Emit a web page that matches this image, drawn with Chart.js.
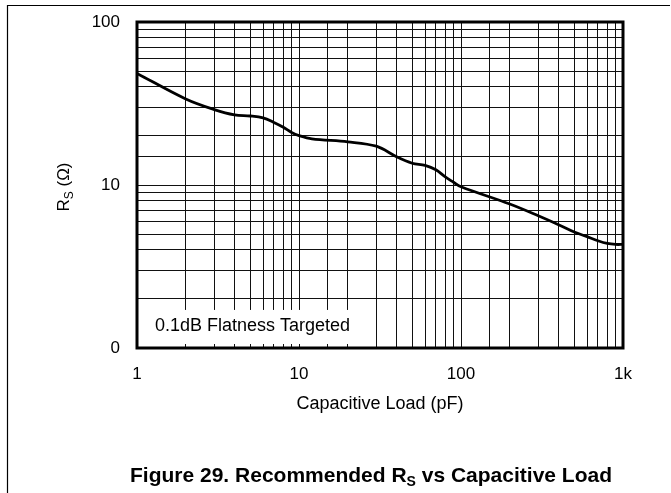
<!DOCTYPE html>
<html>
<head>
<meta charset="utf-8">
<script src="https://cdn.jsdelivr.net/npm/chart.js@4"></script>
<style>
  html, body { margin: 0; padding: 0; background: #fff; }
  canvas { display: block; }
</style>
</head>
<body>
<canvas id="rsChart" width="671" height="493"></canvas>
<script>
// Capacitive load (pF) and recommended Rs (ohm)
const loadPF = [1, 2, 3, 4, 5, 6, 7, 8, 9, 10, 12, 20, 30, 40, 50, 60, 70, 80, 90, 100, 200, 300, 400, 500, 600, 700, 800, 900, 1000];
const rsOhm  = [48.4, 33.7, 29.0, 26.9, 26.5, 25.8, 24.2, 22.6, 21.0, 20.1, 19.2, 18.4, 17.3, 14.9, 13.6, 13.2, 12.4, 11.2, 10.4, 9.76, 7.65, 6.48, 5.71, 5.15, 4.82, 4.55, 4.38, 4.32, 4.32];

// tick labels shown on the axes (others are grid only)
const xTickLabels = {1: "1", 10: "10", 100: "100", 1000: "1k"};
const yTickLabels = {1: "0", 10: "10", 100: "100"};

const FONT = "'Liberation Sans', Arial, Helvetica, sans-serif";

const decor = {
    id: "decor",
    beforeDatasetsDraw(chart) {
        // white patch behind the note, cutting the grid lines
        const {ctx, chartArea, scales} = chart;
        ctx.save();
        ctx.fillStyle = "#fff";
        const y0 = scales.y.getPixelForValue(2) + 11;
        ctx.fillRect(chartArea.left + 1, y0, 222, chartArea.bottom - 4 - y0);
        ctx.restore();
    },
    afterDraw(chart) {
        const {ctx, chartArea} = chart;
        const a = chartArea;
        ctx.save();

        // plot frame
        ctx.strokeStyle = "#000";
        ctx.lineWidth = 3;
        ctx.strokeRect(a.left, a.top, a.right - a.left, a.bottom - a.top);

        // outer figure lines
        ctx.lineWidth = 1.2;
        ctx.beginPath();
        ctx.moveTo(7.5, 493);
        ctx.lineTo(7.5, 5.5);
        ctx.lineTo(670, 5.5);
        ctx.stroke();

        ctx.fillStyle = "#000";

        // note inside the plot
        ctx.font = "18px " + FONT;
        ctx.textAlign = "left";
        ctx.textBaseline = "middle";
        ctx.fillText("0.1dB Flatness Targeted", 155, 326);

        // x axis title
        ctx.textAlign = "center";
        ctx.fillText("Capacitive Load (pF)", (a.left + a.right) / 2, 404);

        // y axis title: R_S (Ω), rotated
        ctx.save();
        ctx.translate(63, 187);
        ctx.rotate(-Math.PI / 2);
        const big = "17px " + FONT, small = "12px " + FONT;
        ctx.font = big; const wR = ctx.measureText("R").width;
        ctx.font = small; const wS = ctx.measureText("S").width;
        ctx.font = big; const wT = ctx.measureText(" (Ω)").width;
        let x = -(wR + wS + wT) / 2;
        ctx.textAlign = "left";
        ctx.textBaseline = "alphabetic";
        ctx.font = big; ctx.fillText("R", x, 6); x += wR;
        ctx.font = small; ctx.fillText("S", x, 10); x += wS;
        ctx.font = big; ctx.fillText(" (Ω)", x, 6);
        ctx.restore();

        // figure caption
        const cb = "bold 21px " + FONT, cs = "bold 14px " + FONT;
        const p1 = "Figure 29. Recommended R", p2 = "S", p3 = " vs Capacitive Load";
        ctx.font = cb; const w1 = ctx.measureText(p1).width, w3 = ctx.measureText(p3).width;
        ctx.font = cs; const w2 = ctx.measureText(p2).width;
        let cx = 371 - (w1 + w2 + w3) / 2;
        ctx.textAlign = "left";
        ctx.textBaseline = "alphabetic";
        ctx.font = cb; ctx.fillText(p1, cx, 482); cx += w1;
        ctx.font = cs; ctx.fillText(p2, cx, 486); cx += w2;
        ctx.font = cb; ctx.fillText(p3, cx, 482);

        ctx.restore();
    }
};

new Chart(document.getElementById("rsChart"), {
    type: "line",
    data: {
        datasets: [{
            data: loadPF.map((v, i) => ({x: v, y: rsOhm[i]})),
            borderColor: "#000",
            borderWidth: 2.8,
            pointRadius: 0,
            fill: false,
            tension: 0.35
        }]
    },
    options: {
        responsive: false,
        animation: false,
        events: [],
        layout: {padding: {top: 22, right: 48, left: 0, bottom: 0}},
        plugins: {legend: {display: false}, tooltip: {enabled: false}},
        scales: {
            x: {
                type: "logarithmic",
                min: 1, max: 1000,
                afterFit: s => { s.height = 145; s.paddingLeft = 0; s.paddingRight = 0; },
                border: {display: false},
                grid: {color: "#111", lineWidth: 1, drawTicks: false},
                ticks: {
                    autoSkip: false, maxRotation: 0, padding: 16,
                    color: "#000", font: {family: FONT, size: 17},
                    callback: v => xTickLabels[v] || ""
                }
            },
            y: {
                type: "logarithmic",
                min: 1, max: 100,
                afterFit: s => { s.width = 137; s.paddingTop = 0; s.paddingBottom = 0; },
                border: {display: false},
                grid: {color: "#111", lineWidth: 1, drawTicks: false},
                ticks: {
                    autoSkip: false, padding: 17,
                    color: "#000", font: {family: FONT, size: 17},
                    callback: v => yTickLabels[v] || ""
                }
            }
        }
    },
    plugins: [decor]
});
</script>
</body>
</html>
